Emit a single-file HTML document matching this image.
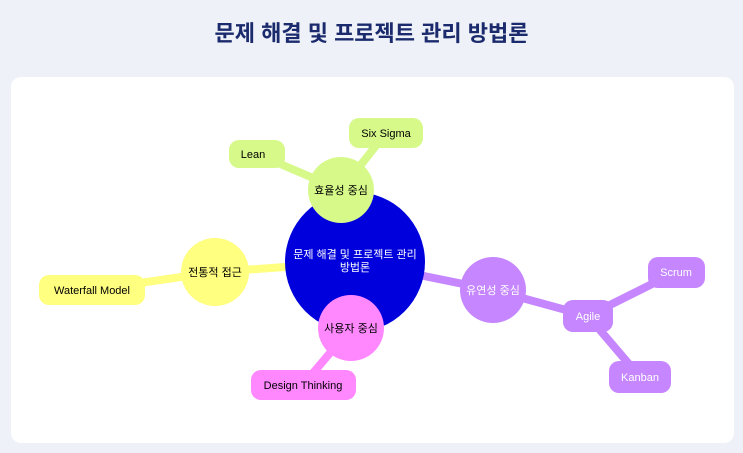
<!DOCTYPE html>
<html><head><meta charset="utf-8"><style>
body{margin:0;width:743px;height:453px;background:#eef1f8;font-family:"Liberation Sans","Noto Sans CJK KR",sans-serif;overflow:hidden}
h1{margin:0;position:absolute;top:16px;left:0;width:743px;text-align:center;font-size:22px;color:#1a2a6c;font-weight:bold}
.card{position:absolute;left:11px;top:77px;width:723px;height:366px;background:#fff;border-radius:10px}
svg{position:absolute;left:0;top:0}
</style></head><body>
<h1>문제 해결 및 프로젝트 관리 방법론</h1>
<div class="card"></div>
<svg width="743" height="453" font-family="Liberation Sans, Noto Sans CJK KR, sans-serif" font-size="11" text-anchor="middle">
<g stroke-width="8" stroke-linecap="round">
<line x1="355" y1="262" x2="341" y2="190" stroke="#d6f98a"/>
<line x1="341" y1="190" x2="257" y2="154" stroke="#d6f98a"/>
<line x1="341" y1="190" x2="386" y2="133" stroke="#d6f98a"/>
<line x1="355" y1="262" x2="215" y2="272" stroke="#ffff80"/>
<line x1="215" y1="272" x2="92" y2="290" stroke="#ffff80"/>
<line x1="355" y1="262" x2="351" y2="328" stroke="#ff88ff"/>
<line x1="351" y1="328" x2="303" y2="385" stroke="#ff88ff"/>
<line x1="355" y1="262" x2="493" y2="290" stroke="#c586ff"/>
<line x1="493" y1="290" x2="588" y2="316" stroke="#c586ff"/>
<line x1="588" y1="316" x2="676" y2="272" stroke="#c586ff"/>
<line x1="588" y1="316" x2="640" y2="377" stroke="#c586ff"/>
</g>
<circle cx="355" cy="262" r="70" fill="#0000dd"/>
<text x="355" y="258" fill="#fff">문제 해결 및 프로젝트 관리</text>
<text x="355" y="271" fill="#fff">방법론</text>
<circle cx="341" cy="190" r="33" fill="#d6f98a"/><text x="341" y="194">효율성 중심</text>
<rect x="229" y="140" width="56" height="28" rx="10" fill="#d6f98a"/><text x="253" y="158">Lean</text>
<rect x="349" y="118" width="74" height="30" rx="10" fill="#d6f98a"/><text x="386" y="137">Six Sigma</text>
<circle cx="215" cy="272" r="34" fill="#ffff80"/><text x="215" y="276">전통적 접근</text>
<rect x="39" y="275" width="106" height="30" rx="10" fill="#ffff80"/><text x="92" y="294">Waterfall Model</text>
<circle cx="351" cy="328" r="33" fill="#ff88ff"/><text x="351" y="332">사용자 중심</text>
<rect x="251" y="370" width="105" height="30" rx="10" fill="#ff88ff"/><text x="303" y="389">Design Thinking</text>
<circle cx="493" cy="290" r="33" fill="#c586ff"/><text x="493" y="294" fill="#fff">유연성 중심</text>
<rect x="563" y="300" width="50" height="32" rx="10" fill="#c586ff"/><text x="588" y="320" fill="#fff">Agile</text>
<rect x="648" y="257" width="57" height="31" rx="10" fill="#c586ff"/><text x="676" y="276" fill="#fff">Scrum</text>
<rect x="609" y="361" width="62" height="32" rx="10" fill="#c586ff"/><text x="640" y="381" fill="#fff">Kanban</text>
</svg>
</body></html>
